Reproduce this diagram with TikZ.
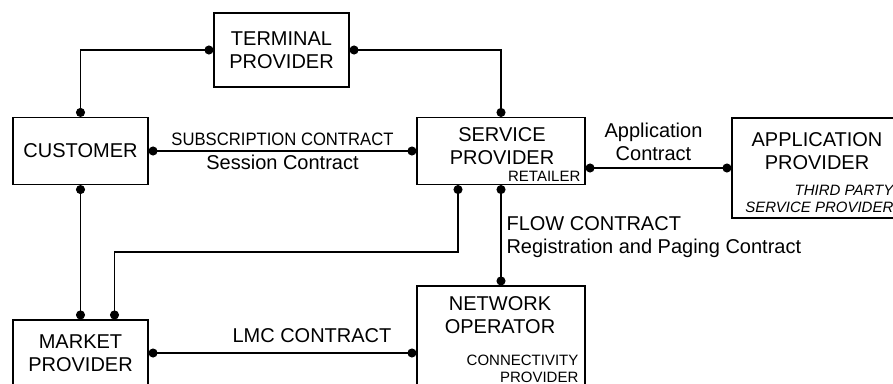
\documentclass[tikz,border=0pt]{standalone}
\usepackage{fontspec}
\setmainfont{Liberation Sans}
\usepackage{graphicx}
\usetikzlibrary{arrows.meta,positioning,calc}

\begin{document}
\begin{tikzpicture}[x=1pt,y=-1pt]
\tikzset{
	box node/.style = {draw, line width = 1.1pt, align = center, inner sep = 0pt, font = \fontsize{20}{23}\selectfont},
	note node/.style = {align = center, inner sep = 3pt, font = \fontsize{20}{23}\selectfont},
	small node/.style = {align = right, inner sep = 3pt, font = \fontsize{15}{17}\selectfont},
	contract/.style = {line width = 1.1pt, {Circle[length=9pt]}-{Circle[length=9pt]}},
}
\useasboundingbox (0,0) rectangle (893,383);
\clip (0,0) rectangle (893,383);

\node(terminal)[box node, minimum width = 135pt, minimum height = 74pt] at (281.5,50) {TERMINAL\\PROVIDER};
\node(customer)[box node, minimum width = 135pt, minimum height = 67pt] at (80.5,151) {CUSTOMER};
\node(service)[box node, minimum width = 168pt, minimum height = 67pt] at (501,151) {};
\node(servicename)[note node] at (502,146.5) {SERVICE\\PROVIDER};
\node(retailer)[small node, anchor = south east] at ([xshift = -2pt]service.south east) {RETAILER};
\node(app)[box node, minimum width = 168pt, minimum height = 100pt] at (816,168) {};
\node(appname)[note node] at (817,151) {APPLICATION\\PROVIDER};
\node(thirdparty)[small node, anchor = south east, font = \fontsize{15}{17}\selectfont\itshape] at ([xshift = -4pt, yshift = 3pt]app.south east) {THIRD PARTY\\SERVICE PROVIDER};
\node(network)[box node, minimum width = 168pt, minimum height = 100pt] at (501,336) {};
\node(networkname)[note node] at (500,315) {NETWORK\\OPERATOR};
\node(connectivity)[small node, anchor = south east] at ([xshift = -4pt, yshift = 1pt]network.south east) {CONNECTIVITY\\PROVIDER};
\node(market)[box node, minimum width = 135pt, minimum height = 66pt] at (80.5,353) {MARKET\\PROVIDER};
\coordinate(bend) at (114.5,252);

\draw[contract] (terminal.west) -| (customer.north);
\draw[contract] (terminal.east) -| (service.north);
\draw[contract] (customer.east) -- node[note node, above = 1.5pt]{\scalebox{0.925}[1]{\fontsize{18}{20}\selectfont SUBSCRIPTION CONTRACT}} node[note node, below]{Session Contract} (service.west);
\draw[contract] (app.west -| service.east) -- node[note node, above = 4pt, xshift = -5pt]{Application\\Contract} (app.west);
\draw[contract] (service.south) -- node[note node, right, align = left, xshift = 2pt, yshift = -2pt]{FLOW CONTRACT\\Registration and Paging Contract} (network.north);
\draw[contract] ([xshift = -43pt]service.south) |- (bend) -- (bend |- market.north);
\draw[contract] (customer.south) -- (market.north);
\draw[contract] (market.east) -- node[note node, pos = 0.61, above = 7pt]{LMC CONTRACT} (market.east -| network.west);

\end{tikzpicture}
\end{document}
